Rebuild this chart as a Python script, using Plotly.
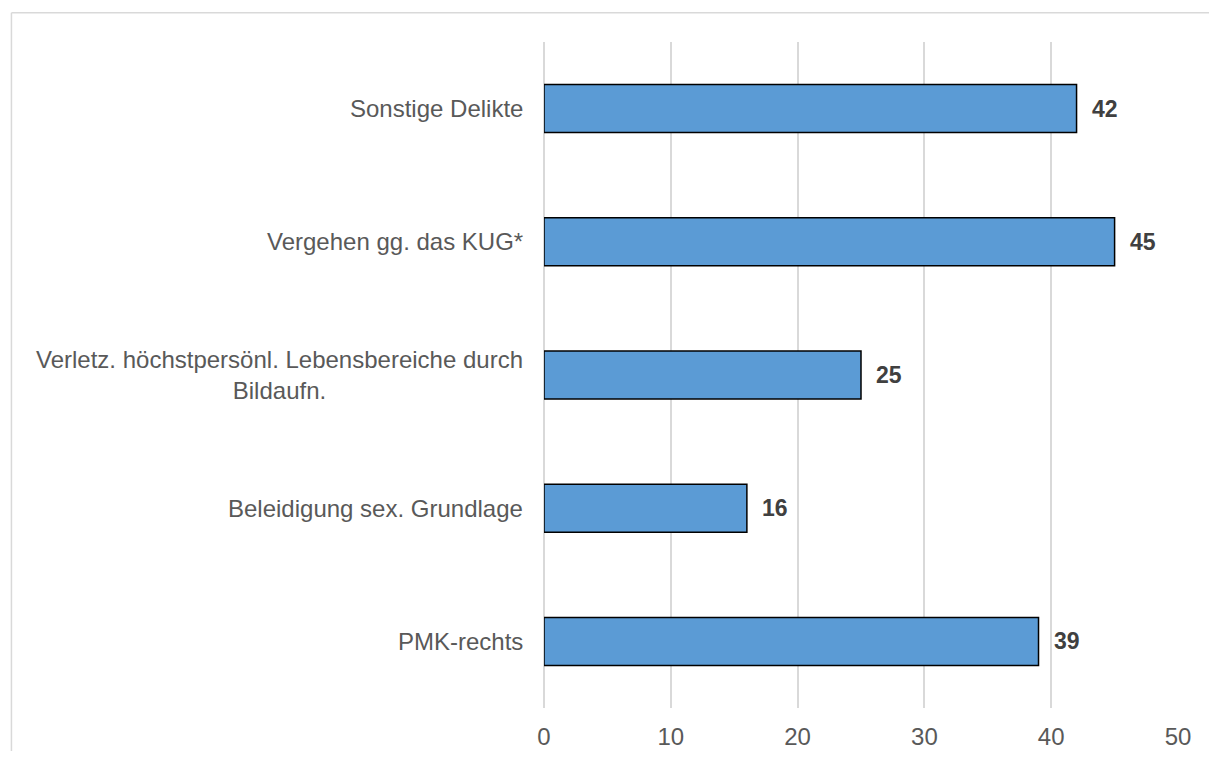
import plotly.graph_objects as go

categories = [
    "PMK-rechts",
    "Beleidigung sex. Grundlage",
    "Verletz. höchstpersönl. Lebensbereiche durch<br>Bildaufn.",
    "Vergehen gg. das KUG*",
    "Sonstige Delikte",
]
values = [39, 16, 25, 45, 42]
x_ticks = [0, 10, 20, 30, 40, 50]

FONT = "Liberation Sans, Arial, sans-serif"

fig = go.Figure()
fig.add_trace(go.Bar(
    y=categories,
    x=values,
    orientation="h",
    marker=dict(color="#5B9BD5", line=dict(color="#000000", width=1.5)),
    hoverinfo="x+y",
))

annotations = []
for c, v in zip(categories, values):
    annotations.append(dict(
        x=v, y=c, xref="x", yref="y", text=str(v), showarrow=False,
        xanchor="left", yanchor="middle", xshift=13,
        font=dict(family=FONT, size=23, color="#404040", weight="bold"),
    ))
    annotations.append(dict(
        x=0, y=c, xref="paper", yref="y", text=c, showarrow=False,
        xanchor="right", yanchor="middle", xshift=-19, align="center",
        font=dict(family=FONT, size=24, color="#595959"),
    ))

border = dict(color="#D9D9D9", width=1.5)

fig.update_layout(
    width=1201, height=743,
    margin=dict(l=536, r=31, t=34, b=43),
    paper_bgcolor="white", plot_bgcolor="white",
    bargap=0.64,
    showlegend=False,
    font=dict(family=FONT, color="#595959"),
    xaxis=dict(
        range=[0, 50], tickvals=x_ticks, ticktext=[str(t) for t in x_ticks],
        showgrid=True, gridcolor="#D9D9D9", gridwidth=1.5,
        zeroline=True, zerolinecolor="#D9D9D9", zerolinewidth=1.5,
        showline=False, ticks="", tickfont=dict(family=FONT, size=24, color="#595959"),
        ticklabelstandoff=12, automargin=False,
        fixedrange=True,
    ),
    yaxis=dict(
        categoryorder="array", categoryarray=categories,
        showticklabels=False, showgrid=False, zeroline=False, showline=False, ticks="",
        automargin=False, fixedrange=True,
    ),
    annotations=annotations,
    shapes=[
        dict(type="line", xref="paper", yref="paper",
             x0=-0.840, x1=-0.840, y0=-0.3, y1=1.0438, line=border, layer="below"),
        dict(type="line", xref="paper", yref="paper",
             x0=-0.840, x1=1.3, y0=1.0438, y1=1.0438, line=border, layer="below"),
    ],
)

fig.write_html("out.html")
